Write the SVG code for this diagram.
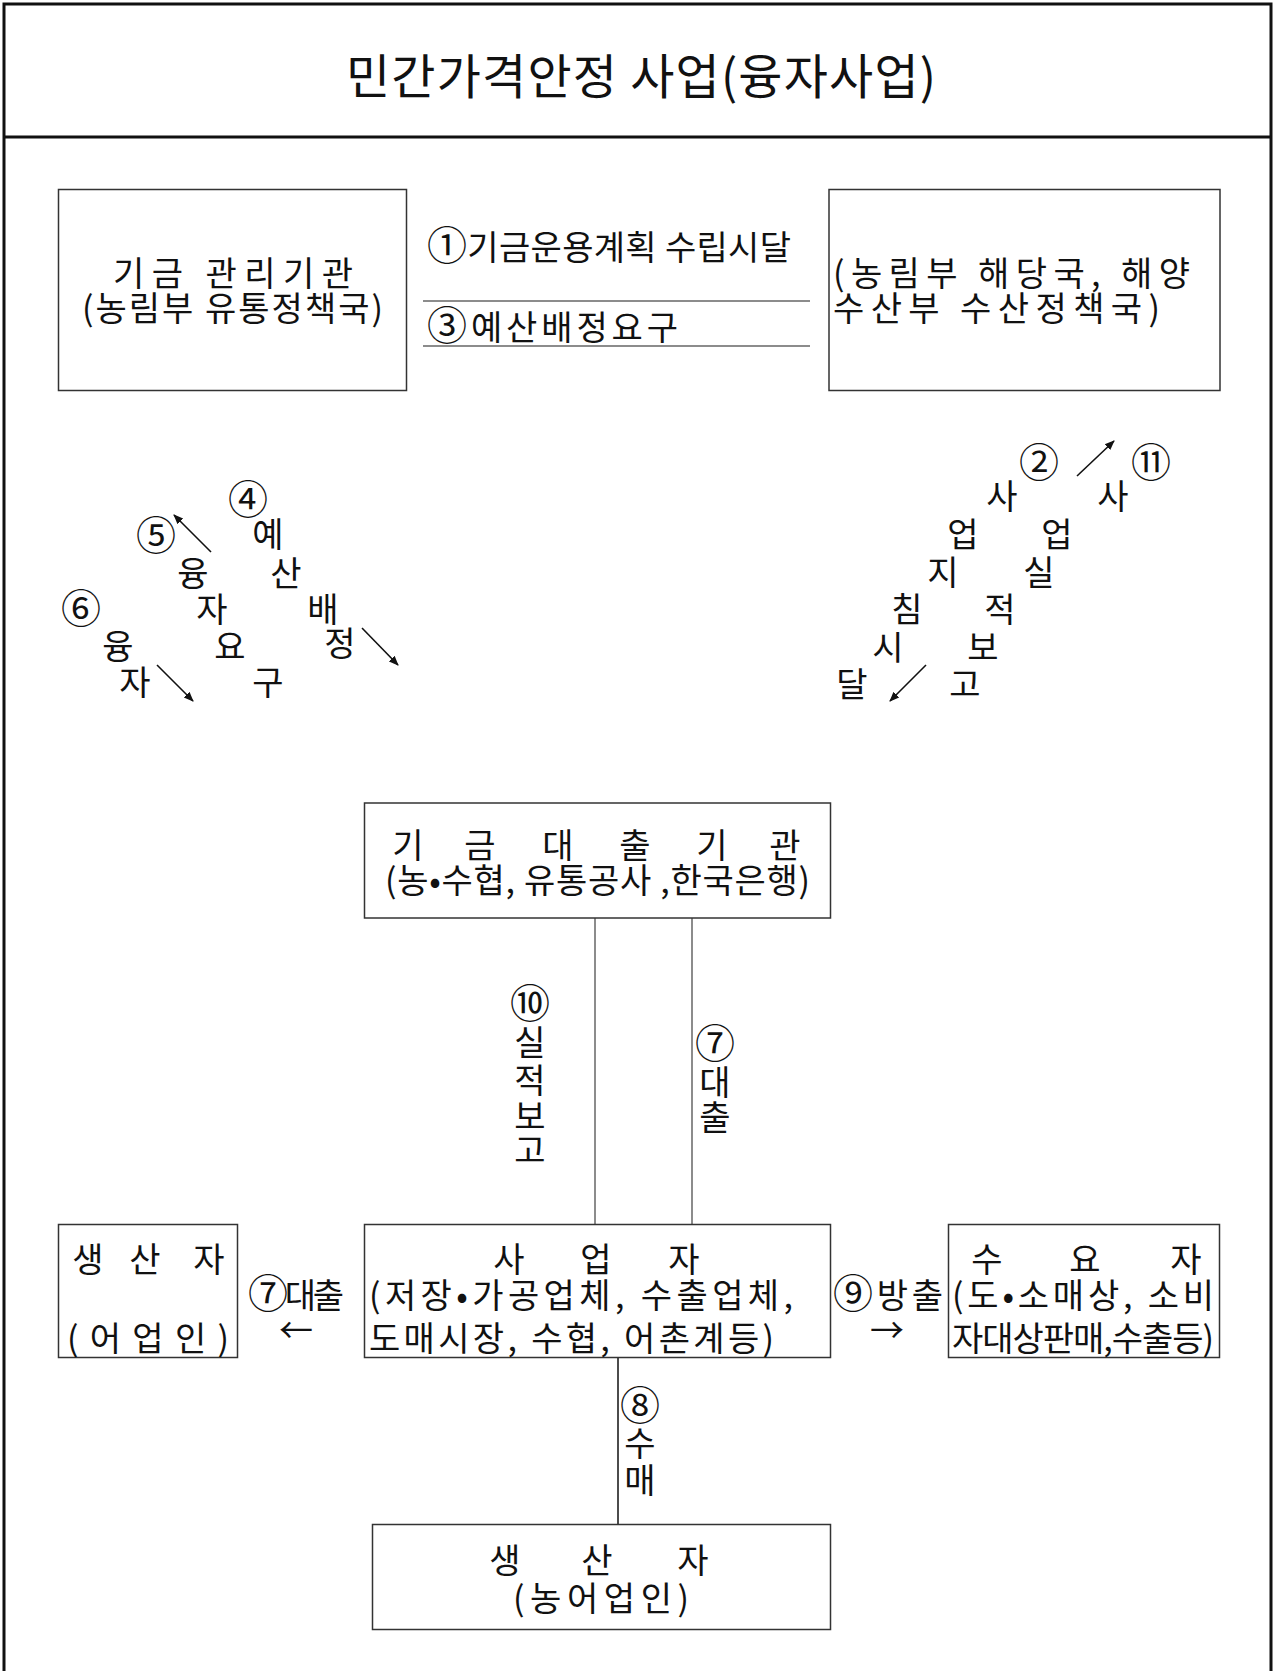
<svg xmlns="http://www.w3.org/2000/svg" width="1274" height="1671" viewBox="0 0 1274 1671">
<defs>
<style>
text{font-family:"Noto Sans CJK KR","Noto Sans",sans-serif;font-size:34px;fill:#111}
.t{font-size:48px}
.m{text-anchor:middle}
.c{font-size:40px}
.box{fill:#fff;stroke:#333;stroke-width:1.5}
.ln{stroke:#666;stroke-width:1.5;fill:none}
.ar{stroke:#111;stroke-width:1.6;fill:none;marker-end:url(#ah)}
</style>
<marker id="ah" markerWidth="10" markerHeight="10" refX="9" refY="5" orient="auto" markerUnits="userSpaceOnUse">
<path d="M0,1 L10,5 L0,9 Z" fill="#111"/>
</marker>
</defs>
<rect width="1274" height="1671" fill="#fff"/>
<g id="frame">
<path d="M4,1671 V4 H1271 V1671" fill="none" stroke="#111" stroke-width="3"/>
<line x1="4" y1="137" x2="1271" y2="137" stroke="#111" stroke-width="3"/>
</g>
<g id="title">
<text class="t" x="346" y="94" textLength="590">민간가격안정 사업(융자사업)</text>
</g>
<g id="connectors">
<line class="ln" x1="423" y1="301" x2="810" y2="301"/>
<line class="ln" x1="423" y1="346" x2="810" y2="346"/>
<line class="ln" x1="595" y1="918" x2="595" y2="1224"/>
<line class="ln" x1="692" y1="918" x2="692" y2="1224"/>
<line x1="618" y1="1357" x2="618" y2="1524" stroke="#111" stroke-width="1.5"/>
<line class="ar" x1="211" y1="552" x2="174" y2="515"/>
<line class="ar" x1="362" y1="628" x2="398" y2="665"/>
<line class="ar" x1="157" y1="665" x2="193" y2="701"/>
<line class="ar" x1="1077" y1="476" x2="1114" y2="441"/>
<line class="ar" x1="926" y1="665" x2="890" y2="701"/>
</g>
<g id="labels">
<text x="427" y="260" textLength="364"><tspan class="c">①</tspan>기금운용계획 수립시달</text>
<text x="427" y="340" textLength="251"><tspan class="c">③</tspan>예산배정요구</text>
<text class="m c" x="248 156 81" y="514 550 623">④⑤⑥</text>
<text class="m" x="268 193 286 212 323 118 230 340 135 268" y="547 586 586 622 622 659 659 656 695 695">예융산자배융요정자구</text>
<text class="m c" x="1039 1151" y="477 477">②⑪</text>
<text class="m" x="1002 1113 963 1057 943 1039 907 1000 888 983 852 965" y="509 509 547 547 585 585 622 622 660 660 697 697">사사업업지실침적시보달고</text>
<text class="m c" x="530" y="1018">⑩</text>
<text class="m" x="530 530 530 530" y="1055 1093 1129 1163">실적보고</text>
<text class="m c" x="715" y="1058">⑦</text>
<text class="m" x="715 715" y="1095 1130">대출</text>
<text class="m c" x="640" y="1420">⑧</text>
<text class="m" x="640 640" y="1456 1493">수매</text>
<text x="248" y="1308" textLength="96"><tspan class="c">⑦</tspan>대출</text>
<text x="279" y="1343" textLength="37">←</text>
<text x="833" y="1308" textLength="110"><tspan class="c">⑨</tspan>방출</text>
<text x="870" y="1343" textLength="37">→</text>
</g>
<g id="box-fund-manager">
<rect class="box" x="58.5" y="189.5" width="348" height="201"/>
<text x="113" y="286" textLength="240">기금 관리기관</text>
<text x="82" y="321" textLength="301">(농림부 유통정책국)</text>
</g>
<g id="box-ministry">
<rect class="box" x="829" y="189.5" width="391" height="201"/>
<text x="833" y="286" textLength="357">(농림부 해당국, 해양</text>
<text x="833" y="321" textLength="327">수산부 수산정책국)</text>
</g>
<g id="box-lender">
<rect class="box" x="364.5" y="803" width="466" height="115"/>
<text class="m" x="408 480 558 635 712 785" y="858">기금대출기관</text>
<text x="385" y="893" textLength="425">(농•수협, 유통공사 ,한국은행)</text>
</g>
<g id="box-fisher">
<rect class="box" x="58.5" y="1224.5" width="179" height="133"/>
<text class="m" x="88 145 209" y="1272">생산자</text>
<text x="67" y="1351" textLength="162">(어업인)</text>
</g>
<g id="box-business">
<rect class="box" x="364.5" y="1224.5" width="466" height="133"/>
<text class="m" x="509 596 684" y="1272">사업자</text>
<text x="369" y="1308" textLength="424">(저장•가공업체, 수출업체,</text>
<text x="369" y="1351" textLength="405">도매시장, 수협, 어촌계등)</text>
</g>
<g id="box-consumer">
<rect class="box" x="948.5" y="1224.5" width="271" height="133"/>
<text class="m" x="987 1085 1186" y="1272">수요자</text>
<text x="952" y="1308" textLength="262">(도•소매상, 소비</text>
<text x="952" y="1351" textLength="262">자대상판매,수출등)</text>
</g>
<g id="box-farmer">
<rect class="box" x="372.5" y="1524.5" width="458" height="105"/>
<text class="m" x="505 597 693" y="1573">생산자</text>
<text x="513" y="1611" textLength="176">(농어업인)</text>
</g>
</svg>
